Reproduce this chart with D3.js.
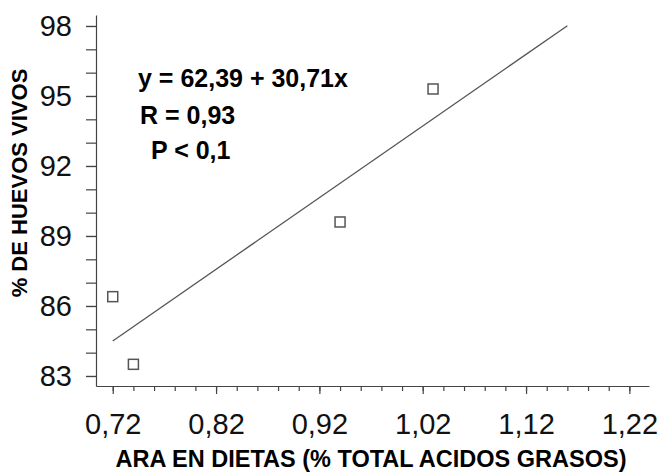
<!DOCTYPE html>
<html>
<head>
<meta charset="utf-8">
<script src="https://cdn.jsdelivr.net/npm/d3@7"></script>
<style>
  body { margin: 0; background: #fff; }
  text { font-family: "Liberation Sans", Arial, sans-serif; }
</style>
</head>
<body>
<div id="chart"></div>
<script>
// data
var araDieta = [0.72, 0.74, 0.94, 1.03];
var huevosVivos = [86.4, 83.5, 89.6, 95.3];
var xTickLabels = [0.72, 0.82, 0.92, 1.02, 1.12, 1.22];
var yTickLabels = [83, 86, 89, 92, 95, 98];
var regIntercept = 62.39, regSlope = 30.71;
var regRange = [0.72, 1.16];
var statsText = ["y = 62,39 + 30,71x", "R = 0,93", "P < 0,1"];

var width = 665, height = 472;

var svg = d3.select('#chart')
            .append("svg")
                .attr("width", width)
                .attr("height", height);

const x = d3.scaleLinear()
            .domain([0.7038, 1.239])
            .range([96, 649]);

const y = d3.scaleLinear()
            .domain([82.571, 98.471])
            .range([386, 15]);

const comma = (d, n) => d.toFixed(n).replace('.', ',');

// minor ticks
const xMinor = d3.range(0, 26).map(i => 0.72 + i * 0.02);
const yMinor = d3.range(83, 99);

svg.append('g')
    .attr('class', 'x-minor')
    .attr("transform", "translate(0," + 386 + ")")
    .call(d3.axisBottom(x).tickValues(xMinor).tickSize(5).tickFormat(''))
    .call(g => g.select('.domain').remove());

svg.append('g')
    .attr('class', 'y-minor')
    .attr("transform", "translate(96,0)")
    .call(d3.axisLeft(y).tickValues(yMinor).tickSize(10).tickFormat(''))
    .call(g => g.select('.domain').remove());

const xAxis = d3.axisBottom(x)
                .tickValues(xTickLabels)
                .tickSize(8)
                .tickSizeOuter(0)
                .tickPadding(19)
                .tickFormat(d => comma(d, 2));

const yAxis = d3.axisLeft(y)
                .tickValues(yTickLabels)
                .tickSize(10)
                .tickSizeOuter(0)
                .tickPadding(14)
                .tickFormat(d => d);

svg.append('g')
    .attr('class', 'x-axis')
    .attr("transform", "translate(0," + 386 + ")")
    .call(xAxis);

svg.append('g')
    .attr('class', 'y-axis')
    .attr("transform", "translate(96,0)")
    .call(yAxis);

svg.selectAll('.x-axis text, .y-axis text')
    .style('font-size', '29px')
    .style('fill', '#111');

svg.selectAll('.tick line, .domain')
    .attr('stroke', '#444')
    .attr('stroke-width', 1.2);

// regression line
const line = d3.line()
                .x(d => x(d))
                .y(d => y(regIntercept + regSlope * d));

svg.append('path')
    .datum(regRange)
    .attr('d', line)
    .attr('fill', 'none')
    .attr('stroke', '#555')
    .attr('stroke-width', 1.3);

// points
svg.append('g')
    .selectAll('rect')
    .data(araDieta)
    .enter()
    .append('rect')
    .attr('x', (d) => x(d) - 5)
    .attr('y', (d, i) => y(huevosVivos[i]) - 5)
    .attr('width', 10)
    .attr('height', 10)
    .attr('fill', 'none')
    .attr('stroke', '#555')
    .attr('stroke-width', 1.5);

// stats
const statsX = [138, 140, 151];
const statsY = [86.5, 123.5, 158.5];
svg.append('g')
    .selectAll('text')
    .data(statsText)
    .enter()
    .append('text')
    .attr('x', (d, i) => statsX[i])
    .attr('y', (d, i) => statsY[i])
    .style('font-size', '25px')
    .style('font-weight', 'bold')
    .text(d => d);

// axis titles
svg.append('text')
    .attr('x', 371)
    .attr('y', 467)
    .attr('text-anchor', 'middle')
    .style('font-size', '23.5px')
    .style('font-weight', 'bold')
    .text('ARA EN DIETAS (% TOTAL ACIDOS GRASOS)');

svg.append('text')
    .attr('transform', 'translate(27,183) rotate(-90)')
    .attr('text-anchor', 'middle')
    .style('font-size', '22px')
    .style('font-weight', 'bold')
    .text('% DE HUEVOS VIVOS');
</script>
</body>
</html>
